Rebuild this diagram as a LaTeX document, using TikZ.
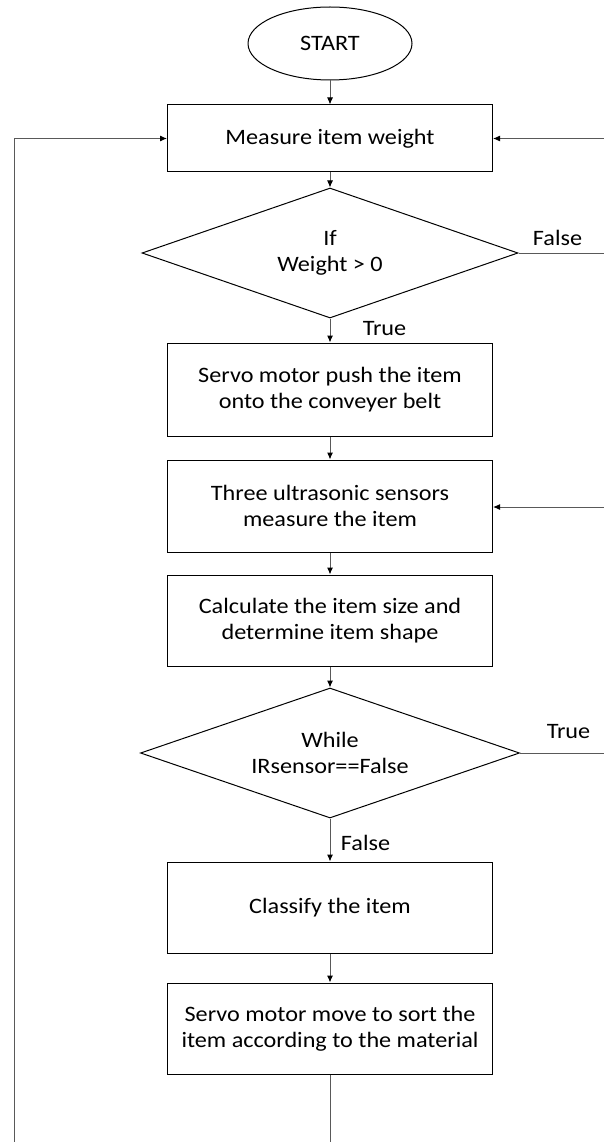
\documentclass[tikz,border=0pt]{standalone}
\usepackage{fontspec}
\setmainfont{Carlito}[FakeStretch=1.1]
\usetikzlibrary{shapes.geometric,arrows.meta}
\tikzset{
  box/.style={draw=black,line width=1pt,rectangle,minimum width=325pt,inner sep=0pt,align=center,font=\fontsize{22}{26}\selectfont},
  dec/.style={draw=black,line width=1pt,diamond,aspect=2.9,inner sep=0pt,align=center,font=\fontsize{22}{26}\selectfont},
  term/.style={draw=black,line width=1pt,ellipse,inner sep=0pt,font=\fontsize{22}{26}\selectfont},
  conn/.style={draw=black!65,line width=1pt},
  arr/.style={conn,-{Latex[length=7pt,width=6pt,color=black]}},
  lbl/.style={font=\fontsize{22}{26}\selectfont,inner sep=0pt}
}
\begin{document}
\begin{tikzpicture}[x=1pt,y=1pt]
\useasboundingbox (0,0) rectangle (604,-1142);
\fill[white] (0,0) rectangle (604,-1142);
\node[term,minimum width=164pt,minimum height=73pt] (start) at (330,-43.5) {START};
\node[box,minimum height=67pt] (m1) at (330,-138.5) {Measure item weight};
\node[dec,minimum width=376pt,minimum height=130pt] (d1) at (330,-253) {If\\Weight > 0};
\node[box,minimum height=93pt] (s1) at (330,-389.5) {Servo motor push the item\\onto the conveyer belt};
\node[box,minimum height=92pt] (s2) at (330,-506) {Three ultrasonic sensors\\measure the item};
\node[box,minimum height=91pt] (s3) at (330,-620.5) {Calculate the item size and\\determine item shape};
\node[dec,minimum width=379pt,minimum height=130pt] (d2) at (330,-753) {While\\IRsensor==False};
\node[box,minimum height=91pt] (s4) at (330,-907.5) {Classify the item};
\node[box,minimum height=91pt] (s5) at (330,-1028.5) {Servo motor move to sort the\\item according to the material};
\coordinate (bc) at (330,-1142);
\coordinate (bl) at (14,-1142);
\coordinate (tl) at (14,-138.5);
\coordinate (r1) at (604,-138.5);
\coordinate (r2) at (604,-253);
\coordinate (r3) at (604,-507);
\coordinate (r4) at (604,-753);
\draw[arr] (start) -- (m1);
\draw[arr] (m1) -- (d1);
\draw[arr] (d1) -- (s1);
\draw[arr] (s1) -- (s2);
\draw[arr] (s2) -- (s3);
\draw[arr] (s3) -- (d2);
\draw[arr] (d2) -- (s4);
\draw[arr] (s4) -- (s5);
\draw[conn] (s5) -- (bc);
\draw[arr] (bl) -- (tl) -- (m1.west);
\draw[arr] (r1) -- (m1.east);
\draw[conn] (d1.east) -- (r2);
\draw[arr] (r3) -- (s2.east |- r3);
\draw[conn] (d2.east) -- (r4);
\node[lbl] (t1) at (384.5,-329) {True};
\node[lbl] (f1) at (557.5,-238) {False};
\node[lbl] (t2) at (568.5,-732) {True};
\node[lbl] (f2) at (365.5,-843) {False};
\end{tikzpicture}
\end{document}
